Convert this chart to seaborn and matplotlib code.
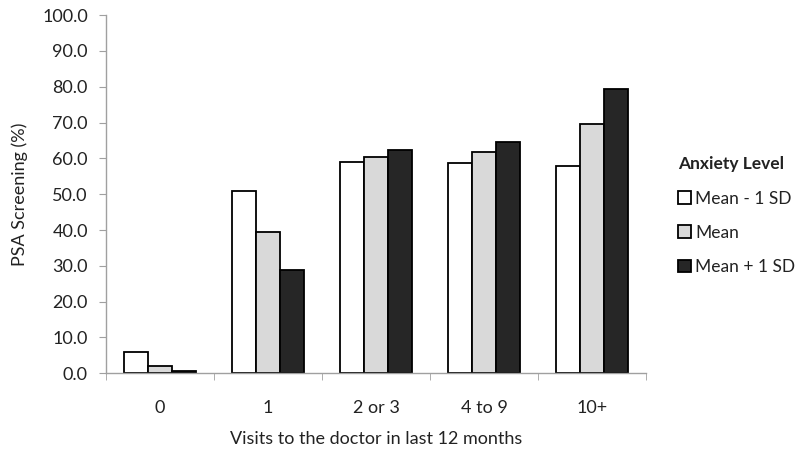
import matplotlib.pyplot as plt
import pandas as pd
import seaborn as sns
from matplotlib.ticker import FormatStrFormatter, FixedLocator

visits = ["0", "1", "2 or 3", "4 to 9", "10+"]
levels = ["Mean - 1 SD", "Mean", "Mean + 1 SD"]
low_sd = [6.0, 51.0, 58.9, 58.6, 57.9]
mean = [1.9, 39.5, 60.5, 61.7, 69.6]
high_sd = [0.7, 28.8, 62.3, 64.6, 79.5]

df = pd.DataFrame({
    "visits": visits * 3,
    "level": [levels[0]] * 5 + [levels[1]] * 5 + [levels[2]] * 5,
    "value": low_sd + mean + high_sd,
})

sns.set_style("white")
plt.rcParams["font.family"] = ["Lato", "DejaVu Sans"]
plt.rcParams["text.color"] = "#222222"
plt.rcParams["axes.labelcolor"] = "#222222"
plt.rcParams["xtick.labelcolor"] = "#222222"
plt.rcParams["ytick.labelcolor"] = "#222222"

fig = plt.figure(figsize=(8, 4.58), dpi=100)
ax = fig.add_axes([0.1325, 0.185, 0.675, 0.782])

sns.barplot(
    data=df, x="visits", y="value", hue="level",
    order=visits, hue_order=levels,
    palette=["#ffffff", "#d9d9d9", "#262626"],
    edgecolor="black", linewidth=1.3, width=0.67,
    ax=ax,
)

ax.set_ylim(0, 100)
ax.set_xlim(-0.5, 4.5)
ax.set_yticks(range(0, 101, 10))
ax.yaxis.set_major_formatter(FormatStrFormatter("%.1f"))
ax.xaxis.set_minor_locator(FixedLocator([i - 0.5 for i in range(6)]))
ax.tick_params(axis="x", which="major", length=0, pad=19, labelsize=13)
ax.tick_params(axis="x", which="minor", length=5, color="#a0a0a0", direction="out", bottom=True)
ax.tick_params(axis="y", length=5, color="#a0a0a0", direction="out", left=True,
               labelsize=13, pad=8)

for s in ["top", "right"]:
    ax.spines[s].set_visible(False)
for s in ["left", "bottom"]:
    ax.spines[s].set_color("#a0a0a0")
    ax.spines[s].set_linewidth(1.0)

ax.set_xlabel("Visits to the doctor in last 12 months", fontsize=13, labelpad=11)
ax.set_ylabel("PSA Screening (%)", fontsize=13, labelpad=10)

leg = ax.legend(
    title="Anxiety Level", loc="center left", bbox_to_anchor=(1.03, 0.44),
    frameon=False, fontsize=12.5, title_fontsize=12.5,
    handlelength=0.75, handleheight=0.75, handletextpad=0.25, labelspacing=1.05,
)
leg.get_title().set_fontweight("bold")
leg._legend_box.align = "left"

fig.savefig("out.png", dpi=100)
